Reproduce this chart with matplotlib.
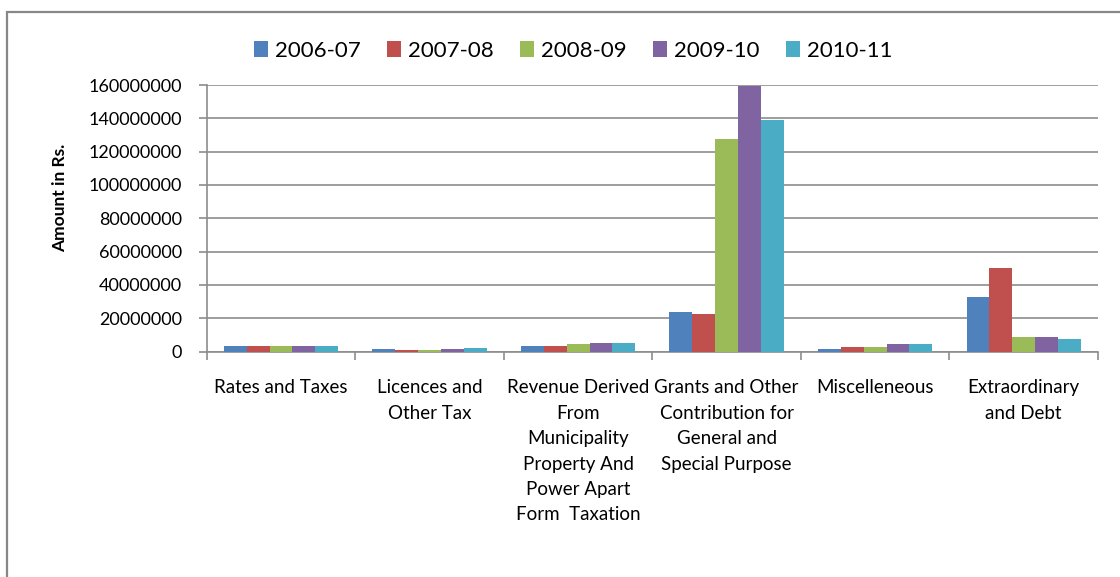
import matplotlib
matplotlib.use("Agg")
import matplotlib.pyplot as plt
from matplotlib.patches import Rectangle, Patch
import numpy as np

plt.rcParams['font.family'] = ['Lato', 'DejaVu Sans']

categories = [
    "Rates and Taxes",
    "Licences and\nOther Tax",
    "Revenue Derived\nFrom\nMunicipality\nProperty And\nPower Apart\nForm  Taxation",
    "Grants and Other\nContribution for\nGeneral and\nSpecial Purpose",
    "Miscelleneous",
    "Extraordinary\nand Debt",
]
years = ["2006-07", "2007-08", "2008-09", "2009-10", "2010-11"]

amt_2006_07 = [3400000, 1600000, 3400000, 24000000, 1300000, 33000000]
amt_2007_08 = [3400000, 1000000, 3400000, 22800000, 3000000, 50000000]
amt_2008_09 = [3400000, 1000000, 4600000, 127300000, 3000000, 8500000]
amt_2009_10 = [3400000, 1600000, 5200000, 159200000, 4800000, 9000000]
amt_2010_11 = [3400000, 2200000, 5200000, 138800000, 4800000, 7300000]
series = [amt_2006_07, amt_2007_08, amt_2008_09, amt_2009_10, amt_2010_11]

colors = ["#4F81BD", "#C0504D", "#9BBB59", "#8064A2", "#4BACC6"]
y_ticks = list(range(0, 160000001, 20000000))

W, H = 1120, 577
fig = plt.figure(figsize=(W / 100, H / 100), dpi=100)

# plot area in pixel coordinates
left, right, top, bottom = 206.7, 1098, 85, 351.5
ax = fig.add_axes([left / W, 1 - bottom / H, (right - left) / W, (bottom - top) / H])

x = np.arange(len(categories))
bw = 1 / 6.5
for i, (vals, col) in enumerate(zip(series, colors)):
    ax.bar(x + (i - 2) * bw, vals, width=bw, color=col, zorder=3)

grid_col = "#8C8C8C"
ax.set_xlim(-0.5, len(categories) - 0.5)
ax.set_ylim(0, 160000000)
ax.set_yticks(y_ticks)
ax.set_yticklabels([str(v) for v in y_ticks], fontsize=13)
ax.yaxis.grid(True, color=grid_col, linewidth=1.2, zorder=0)

ax.set_xticks(np.arange(-0.5, len(categories), 1.0))
ax.set_xticklabels([])
ax.tick_params(axis='x', length=6, color=grid_col, width=1.2, direction='out')
ax.tick_params(axis='y', length=6, color=grid_col, width=1.2, direction='out', pad=11.8)

for s in ['top', 'right']:
    ax.spines[s].set_visible(False)
for s in ['left', 'bottom']:
    ax.spines[s].set_color(grid_col)
    ax.spines[s].set_linewidth(1.2)

# category labels below the axis
for xi, lab in zip(x, categories):
    ax.text(xi, -0.105, lab, transform=ax.get_xaxis_transform(), ha='center', va='top',
            fontsize=13.5, linespacing=1.6)

fig.text(60 / W, 1 - 198 / H, "Amount in Rs.", rotation=90, ha='center', va='center',
         fontsize=12.5, fontweight='bold')

handles = [Patch(facecolor=c, edgecolor='none') for c in colors]
fig.legend(handles, years, loc='center', bbox_to_anchor=(573 / W, 1 - 51 / H), ncol=5,
           frameon=False, fontsize=16, handlelength=0.65, handleheight=0.7,
           handletextpad=0.3, columnspacing=1.18)

# chart frame
fig.add_artist(Rectangle((7 / W, -0.1), 1.2, 1 - 12 / H + 0.1, transform=fig.transFigure,
                         fill=False, edgecolor="#878787", linewidth=1.6, clip_on=False))

fig.savefig("out.png", dpi=100)
